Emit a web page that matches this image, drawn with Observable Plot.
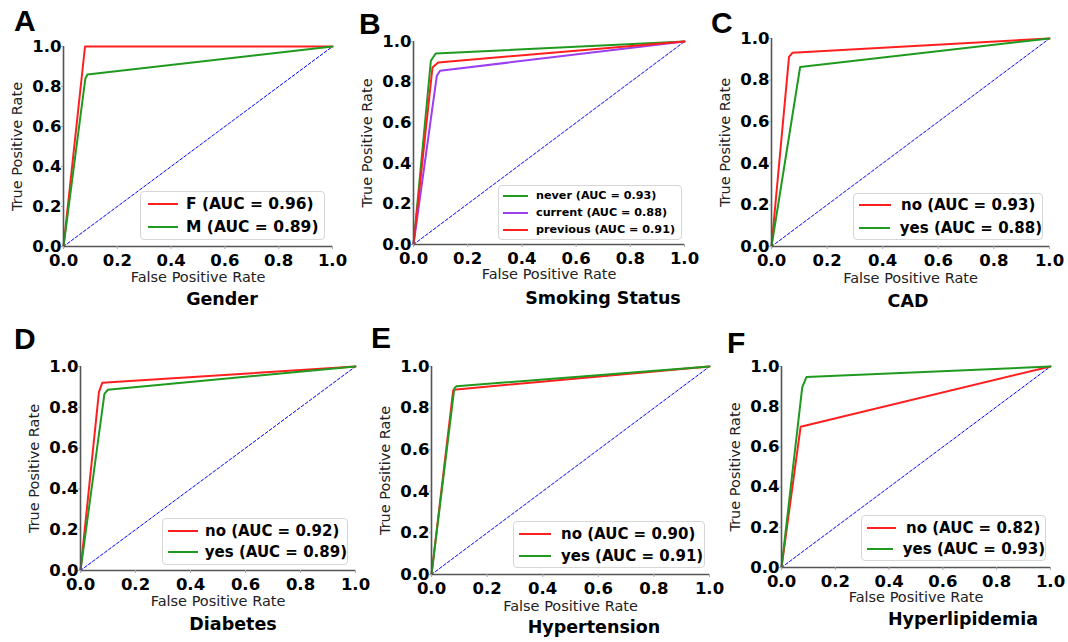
<!DOCTYPE html>
<html><head><meta charset="utf-8">
<script src="https://cdn.jsdelivr.net/npm/d3@7"></script>
<script src="https://cdn.jsdelivr.net/npm/@observablehq/plot@0.6"></script>
<style>
html,body{margin:0;padding:0;background:#fff;}
#fig{position:relative;width:1068px;height:642px;overflow:hidden;font-family:"DejaVu Sans",sans-serif;background:#fff;}
.panel{position:absolute;}
.panel svg{overflow:visible;}
.letter{position:absolute;font-family:"Liberation Sans",Arial,sans-serif;font-weight:bold;font-size:30px;line-height:30px;color:#000;}
.title{position:absolute;font-family:"DejaVu Sans",sans-serif;font-weight:bold;font-size:17.5px;line-height:1;transform:translate(-50%,-50%);white-space:nowrap;color:#000;}
.legend{position:absolute;box-sizing:border-box;border:1px solid #d6d6d6;border-radius:4px;background:rgba(255,255,255,0.85);display:flex;flex-direction:column;justify-content:center;font-family:"DejaVu Sans",sans-serif;font-weight:bold;color:#000;}
.row{display:flex;align-items:center;white-space:nowrap;}
.sw{display:inline-block;height:2px;}
</style></head><body><div id="fig"></div>
<script>
// ---------------- data ----------------
const panelLetters = ["A", "B", "C", "D", "E", "F"];
const panelTitles = ["Gender", "Smoking Status", "CAD", "Diabetes", "Hypertension", "Hyperlipidemia"];
const tickValues = [0, 0.2, 0.4, 0.6, 0.8, 1.0];
const xLabel = "False Positive Rate";
const yLabel = "True Positive Rate";
const chanceLine = [0, 1];

const genderGroups = ["F", "M"];
const genderAUC = [0.96, 0.89];
const genderFPR = [[0, 0.08, 1], [0, 0.081, 0.089, 1]];
const genderTPR = [[0, 1, 1], [0, 0.838, 0.86, 1]];

const smokingGroups = ["never", "current", "previous"];
const smokingAUC = [0.93, 0.88, 0.91];
const smokingFPR = [[0, 0.064, 0.082, 1], [0, 0.086, 0.098, 1], [0, 0.07, 0.091, 1]];
const smokingTPR = [[0, 0.905, 0.941, 1], [0, 0.831, 0.856, 1], [0, 0.872, 0.897, 1]];

const cadGroups = ["no", "yes"];
const cadAUC = [0.93, 0.88];
const cadFPR = [[0, 0.063, 0.075, 1], [0, 0.103, 1]];
const cadTPR = [[0, 0.912, 0.931, 1], [0, 0.863, 1]];

const diabetesGroups = ["no", "yes"];
const diabetesAUC = [0.92, 0.89];
const diabetesFPR = [[0, 0.067, 0.079, 1], [0, 0.087, 0.099, 1]];
const diabetesTPR = [[0, 0.874, 0.92, 1], [0, 0.866, 0.886, 1]];

const hypertensionGroups = ["no", "yes"];
const hypertensionAUC = [0.90, 0.91];
const hypertensionFPR = [[0, 0.078, 0.09, 1], [0, 0.082, 0.09, 1]];
const hypertensionTPR = [[0, 0.885, 0.89, 1], [0, 0.895, 0.905, 1]];

const hyperlipidemiaGroups = ["no", "yes"];
const hyperlipidemiaAUC = [0.82, 0.93];
const hyperlipidemiaFPR = [[0, 0.071, 1], [0, 0.077, 0.093, 1]];
const hyperlipidemiaTPR = [[0, 0.70, 1], [0, 0.896, 0.948, 1]];

// ---------------- styles / layout ----------------
const RED = "#ff1f1f", GREEN = "#1f9a1f", PURPLE = "#9b3ff0";
const panelColors = [[RED, GREEN], [GREEN, PURPLE, RED], [RED, GREEN], [RED, GREEN], [RED, GREEN], [RED, GREEN]];

const layout = [
  {left: 0, top: 0, w: 356, h: 320, fx0: 63, fx1: 332, fy0: 46, fy1: 246, xlab: 31, letter: [15, 10], title: [222, 300],
   legend: {x: 140, y: 191, w: 185, h: 49, row: 23, fs: 15.5, sw: 30, pad: 7, gap: 8}},
  {left: 356, top: 0, w: 356, h: 320, fx0: 413, fx1: 684, fy0: 41, fy1: 244, xlab: 30, letter: [360, 13], title: [603, 298.5],
   legend: {x: 498, y: 185, w: 184, h: 55, row: 17, fs: 11.2, sw: 25, pad: 4, gap: 8}},
  {left: 712, top: 0, w: 356, h: 320, fx0: 771, fx1: 1049, fy0: 38, fy1: 246, xlab: 31.5, letter: [712, 12], title: [908, 301.5],
   legend: {x: 853, y: 193, w: 190, h: 47, row: 23, fs: 15, sw: 32, pad: 5, gap: 10}},
  {left: 0, top: 320, w: 356, h: 322, fx0: 80, fx1: 355, fy0: 366, fy1: 570, xlab: 31, letter: [15, 328], title: [233, 625],
   legend: {x: 162, y: 518, w: 186, h: 47, row: 21, fs: 15, sw: 30, pad: 5, gap: 7}},
  {left: 356, top: 320, w: 356, h: 322, fx0: 431, fx1: 709, fy0: 366, fy1: 574, xlab: 32, letter: [372, 327], title: [594, 627.5],
   legend: {x: 513, y: 521, w: 192, h: 47, row: 22, fs: 15, sw: 32, pad: 5, gap: 10}},
  {left: 712, top: 320, w: 356, h: 322, fx0: 781, fx1: 1050, fy0: 366, fy1: 567, xlab: 30, letter: [728, 332], title: [963, 620],
   legend: {x: 861, y: 515, w: 185, h: 46, row: 21, fs: 15, sw: 29, pad: 5, gap: 10}}
];

const panelData = [
  [genderGroups, genderAUC, genderFPR, genderTPR],
  [smokingGroups, smokingAUC, smokingFPR, smokingTPR],
  [cadGroups, cadAUC, cadFPR, cadTPR],
  [diabetesGroups, diabetesAUC, diabetesFPR, diabetesTPR],
  [hypertensionGroups, hypertensionAUC, hypertensionFPR, hypertensionTPR],
  [hyperlipidemiaGroups, hyperlipidemiaAUC, hyperlipidemiaFPR, hyperlipidemiaTPR]
];

const fig = document.getElementById("fig");
const fmt = d3.format(".1f");

panelData.forEach(([groups, auc, fprs, tprs], i) => {
  const L = layout[i];
  const colors = panelColors[i];
  const chance = chanceLine.map(v => ({fpr: v, tpr: v}));
  const seriesMarks = groups.map((g, k) =>
    Plot.line(fprs[k].map((f, j) => ({fpr: f, tpr: tprs[k][j], group: g})),
      {x: "fpr", y: "tpr", stroke: colors[k], strokeWidth: 2, strokeLinejoin: "round"}));
  const chart = Plot.plot({
    width: L.w, height: L.h,
    marginLeft: L.fx0 - L.left, marginRight: L.left + L.w - L.fx1,
    marginTop: L.fy0 - L.top, marginBottom: L.top + L.h - L.fy1,
    x: {domain: [0, 1]}, y: {domain: [0, 1]},
    style: {fontFamily: "DejaVu Sans", background: "transparent", overflow: "visible", maxWidth: "none"},
    marks: [
      Plot.line(chance, {x: "fpr", y: "tpr", stroke: "#0000ff", strokeWidth: 1, strokeDasharray: "3,2"}),
      ...seriesMarks,
      Plot.ruleX([0], {stroke: "#555", strokeWidth: 1.6}),
      Plot.ruleY([0], {stroke: "#555", strokeWidth: 1.6}),
      Plot.axisX(tickValues, {tickFormat: fmt, tickSize: 3, tickPadding: 5, stroke: "#aaa", fill: "#000",
        fontSize: 16.5, fontWeight: "bold", label: null}),
      Plot.axisY(tickValues, {tickFormat: fmt, tickSize: 2, tickPadding: 0, stroke: "#aaa", fill: "#000",
        fontSize: 16.5, fontWeight: "bold", label: null}),
      Plot.text([xLabel], {text: d => d, frameAnchor: "bottom", dy: L.xlab, textAnchor: "middle", lineAnchor: "middle", fontSize: 14.5, fill: "#222"}),
      Plot.text([yLabel], {text: d => d, frameAnchor: "left", dx: -46, rotate: -90, textAnchor: "middle", lineAnchor: "middle", fontSize: 14.5, fill: "#222"})
    ]
  });
  const holder = document.createElement("div");
  holder.className = "panel";
  holder.style.left = L.left + "px";
  holder.style.top = L.top + "px";
  holder.style.width = L.w + "px";
  holder.style.height = L.h + "px";
  holder.appendChild(chart);
  fig.appendChild(holder);

  // legend
  const lg = document.createElement("div");
  lg.className = "legend";
  Object.assign(lg.style, {left: L.legend.x + "px", top: L.legend.y + "px", width: L.legend.w + "px", height: L.legend.h + "px", fontSize: L.legend.fs + "px"});
  groups.forEach((g, k) => {
    const row = document.createElement("div");
    row.className = "row";
    row.style.height = L.legend.row + "px";
    const sw = document.createElement("span");
    sw.className = "sw";
    Object.assign(sw.style, {width: L.legend.sw + "px", marginLeft: L.legend.pad + "px", background: colors[k]});
    const tx = document.createElement("span");
    tx.style.marginLeft = L.legend.gap + "px";
    tx.textContent = `${g} (AUC = ${auc[k].toFixed(2)})`;
    row.appendChild(sw); row.appendChild(tx);
    lg.appendChild(row);
  });
  fig.appendChild(lg);

  // panel letter
  const le = document.createElement("div");
  le.className = "letter";
  le.style.left = (L.letter[0] - 1) + "px";
  le.style.top = (L.letter[1] - 4) + "px";
  le.textContent = panelLetters[i];
  fig.appendChild(le);

  // title
  const ti = document.createElement("div");
  ti.className = "title";
  ti.style.left = L.title[0] + "px";
  ti.style.top = L.title[1] + "px";
  ti.textContent = panelTitles[i];
  fig.appendChild(ti);
});
</script></body></html>
